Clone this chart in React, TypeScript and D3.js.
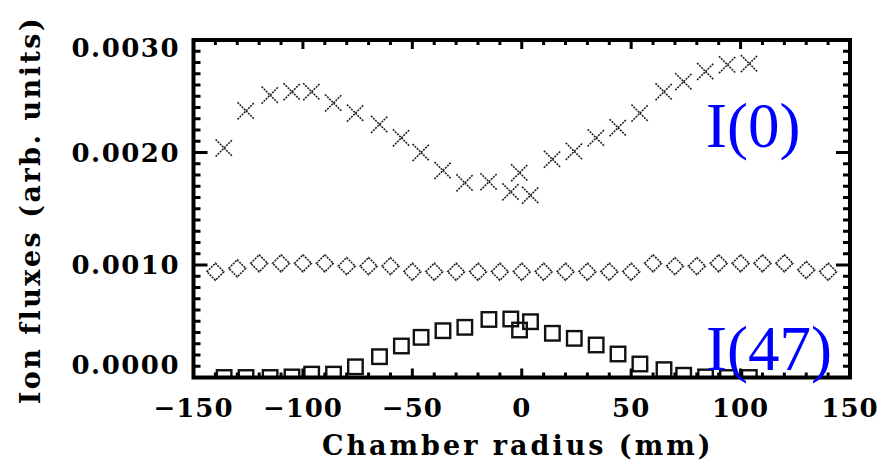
import React from "react";
import * as d3 from "d3";

// Radial positions (mm) of the I(0) and I(47) probe scans
const radiusScan: number[] = [-136, -126, -115, -105, -96, -86, -76, -65, -55, -46, -36, -26, -15, -5, -1, 4, 14, 24, 34, 44, 54, 65, 74, 84, 94, 104];
// I(0) flux, units of 1e-3
const fluxI0: number[] = [2.04, 2.37, 2.51, 2.54, 2.54, 2.44, 2.35, 2.25, 2.13, 2.0, 1.84, 1.73, 1.74, 1.65, 1.82, 1.62, 1.94, 2.01, 2.13, 2.22, 2.35, 2.54, 2.63, 2.72, 2.78, 2.79];
// I(47) flux, units of 1e-3
const fluxI47: number[] = [0.0, 0.0, 0.0, 0.005, 0.03, 0.03, 0.095, 0.185, 0.28, 0.357, 0.416, 0.446, 0.516, 0.52, 0.422, 0.496, 0.393, 0.348, 0.289, 0.209, 0.12, 0.07, 0.02, 0.005, 0.0, 0.0];
// Intermediate series on a regular 10 mm grid
const radiusGrid: number[] = [-140, -130, -120, -110, -100, -90, -80, -70, -60, -50, -40, -30, -20, -10, 0, 10, 20, 30, 40, 50, 60, 70, 80, 90, 100, 110, 120, 130, 140];
const fluxMid: number[] = [0.94, 0.97, 1.015, 1.015, 1.015, 1.015, 0.99, 0.99, 0.99, 0.94, 0.94, 0.94, 0.94, 0.94, 0.94, 0.94, 0.94, 0.94, 0.94, 0.94, 1.015, 0.99, 0.99, 1.015, 1.015, 1.015, 1.015, 0.956, 0.94];

const xTicks: number[] = [-150, -100, -50, 0, 50, 100, 150];
const yTicks: number[] = [0, 0.001, 0.002, 0.003];
const yTickLabels: string[] = ["0.0000", "0.0010", "0.0020", "0.0030"];

const W = 880;
const H = 466;
const left = 193.5;
const right = 850;
const top = 40;
const bottom = 377.5;

const x = d3.scaleLinear().domain([-150, 150]).range([left, right]);
const y = d3.scaleLinear().domain([0, 0.003]).range([bottom, top]);

const tickFont = "'DejaVu Serif', serif";

export default function App() {
  const xMinor = d3.range(-150, 151, 10);
  const yMinor = d3.range(0, 31).map((i) => i * 0.0001);
  const crossR = 8.5;
  const diamondR = 8.5;
  const sq = 14.5;

  return (
    <svg
      width={W}
      height={H}
      style={{ position: "absolute", left: 0, top: 0, background: "#fff" }}
    >
      <defs>
        <clipPath id="plotArea">
          <rect x={left} y={top} width={right - left} height={bottom - top} />
        </clipPath>
      </defs>

      <g clipPath="url(#plotArea)">
        {/* I(0): crosses */}
        {radiusScan.map((r, i) => {
          const cx = x(r);
          const cy = y(fluxI0[i] * 1e-3);
          return (
            <path
              key={"c" + i}
              d={`M${cx - crossR},${cy - crossR}L${cx + crossR},${cy + crossR}M${cx - crossR},${cy + crossR}L${cx + crossR},${cy - crossR}`}
              stroke="#222"
              strokeWidth={1.6}
              strokeDasharray="2 1"
              fill="none"
            />
          );
        })}
        {/* Intermediate series: diamonds */}
        {radiusGrid.map((r, i) => {
          const cx = x(r);
          const cy = y(fluxMid[i] * 1e-3);
          return (
            <path
              key={"d" + i}
              d={`M${cx},${cy - diamondR}L${cx + diamondR},${cy}L${cx},${cy + diamondR}L${cx - diamondR},${cy}Z`}
              stroke="#222"
              strokeWidth={1.6}
              strokeDasharray="2 1"
              fill="none"
            />
          );
        })}
        {/* I(47): squares */}
        {radiusScan.map((r, i) => {
          const cx = x(r);
          const cy = y(fluxI47[i] * 1e-3);
          return (
            <rect
              key={"s" + i}
              x={cx - sq / 2}
              y={cy - sq / 2}
              width={sq}
              height={sq}
              stroke="#111"
              strokeWidth={2.4}
              fill="none"
            />
          );
        })}
      </g>

      {/* X ticks, bottom and top */}
      {xMinor.map((v) => {
        const major = v % 50 === 0;
        const len = major ? 9 : 5;
        return (
          <g key={"xt" + v} stroke="#000" strokeWidth={3}>
            <line x1={x(v)} x2={x(v)} y1={bottom} y2={bottom - len} />
            <line x1={x(v)} x2={x(v)} y1={top} y2={top + len} />
          </g>
        );
      })}
      {/* Y ticks, left and right */}
      {yMinor.map((v, i) => {
        const major = i % 10 === 0;
        const len = major ? 14 : 7;
        return (
          <g key={"yt" + i} stroke="#000" strokeWidth={3}>
            <line x1={left} x2={left + len} y1={y(v)} y2={y(v)} />
            <line x1={right} x2={right - len} y1={y(v)} y2={y(v)} />
          </g>
        );
      })}

      {/* Frame */}
      <rect
        x={left}
        y={top}
        width={right - left}
        height={bottom - top}
        fill="none"
        stroke="#000"
        strokeWidth={4}
      />

      {/* X tick labels */}
      {xTicks.map((v) => (
        <text
          key={"xl" + v}
          x={x(v)}
          y={417}
          textAnchor="middle"
          fontFamily={tickFont}
          fontWeight="bold"
          fontSize={26}
          letterSpacing={1}
          fill="#000"
        >
          {v < 0 ? "\u2212" + Math.abs(v) : String(v)}
        </text>
      ))}

      {/* Y tick labels, kept within the vertical extent of the frame */}
      {yTicks.map((v, i) => {
        const cy = Math.min(Math.max(y(v), top + 8), bottom - 12.5);
        return (
          <text
            key={"yl" + i}
            x={180}
            y={cy}
            dy="0.36em"
            textAnchor="end"
            fontFamily={tickFont}
            fontWeight="bold"
            fontSize={26}
            letterSpacing={1.5}
            fill="#000"
          >
            {yTickLabels[i]}
          </text>
        );
      })}

      {/* Axis titles */}
      <text
        x={(left + right) / 2 - 4}
        y={455}
        textAnchor="middle"
        fontFamily={tickFont}
        fontWeight="bold"
        fontSize={27}
        letterSpacing={3}
        fill="#000"
      >
        Chamber radius (mm)
      </text>
      <text
        transform="translate(40,210) rotate(-90)"
        textAnchor="middle"
        fontFamily={tickFont}
        fontWeight="bold"
        fontSize={27}
        letterSpacing={2.5}
        fill="#000"
      >
        Ion fluxes (arb. units)
      </text>

      {/* Series annotations */}
      <text
        x={706}
        y={147}
        fontFamily="'Liberation Serif', 'Times New Roman', serif"
        fontSize={63}
        fill="#0000ff"
      >
        I(0)
      </text>
      <text
        x={706}
        y={370}
        fontFamily="'Liberation Serif', 'Times New Roman', serif"
        fontSize={63}
        fill="#0000ff"
      >
        I(47)
      </text>
    </svg>
  );
}
